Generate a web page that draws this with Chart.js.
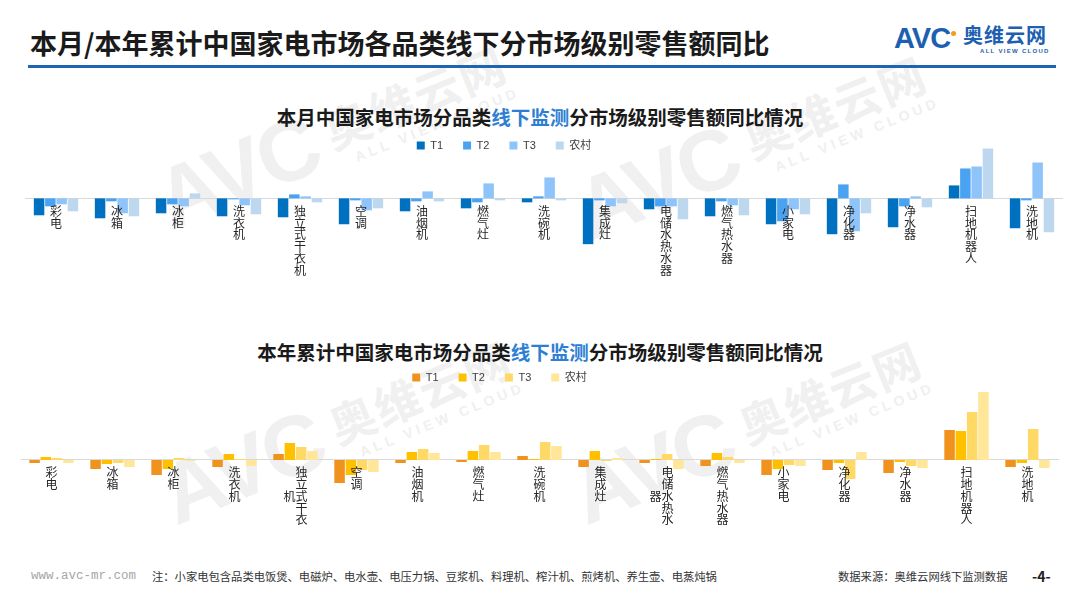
<!DOCTYPE html>
<html lang="zh-CN">
<head>
<meta charset="utf-8">
<title>本月/本年累计中国家电市场各品类线下分市场级别零售额同比</title>
<script src="https://cdn.jsdelivr.net/npm/chart.js@4.4.1/dist/chart.umd.min.js"></script>
<style>
  html, body { margin: 0; padding: 0; }
  body {
    width: 1080px; height: 608px; position: relative; overflow: hidden;
    background: #fff; color: #1a1a1a;
    font-family: 'Noto Sans CJK SC', 'Liberation Sans', sans-serif;
  }
  .page-title { position: absolute; left: 30px; top: 25px; font-size: 27px; line-height: 36px; font-weight: bold; }
  .rule { position: absolute; left: 28px; top: 65px; width: 1028px; height: 3px; background: #1f63b4; }

  .logo { position: absolute; left: 894px; top: 22px; width: 170px; height: 34px; color: #1d5fb0; }
  .logo .avc { position: absolute; left: 0; top: 0; font: bold 29px/32px 'Liberation Sans'; letter-spacing: -1px; }
  .logo .dot { position: absolute; left: 57px; top: 9px; width: 5px; height: 5px; border-radius: 50%; background: #f39a1d; }
  .logo .cn { position: absolute; left: 69px; top: 2px; font: bold 20px/22px 'Noto Sans CJK SC'; letter-spacing: 1px; }
  .logo .en { position: absolute; left: 86px; top: 25px; font: bold 6px/8px 'Liberation Sans'; letter-spacing: 1.3px; }

  .wm { position: absolute; transform: rotate(-22deg); transform-origin: 0 100%; color: #f0f0f0; white-space: nowrap; }
  .wm .avc { display: inline-block; vertical-align: bottom; font: bold 86px/80px 'Liberation Sans'; letter-spacing: -3px; }
  .wm .brand { display: inline-block; vertical-align: bottom; margin-left: 14px; }
  .wm .cn { font: bold 46px/52px 'Noto Sans CJK SC'; letter-spacing: 2px; }
  .wm .en { font: bold 14px/18px 'Liberation Sans'; letter-spacing: 4px; margin-left: 18px; }

  .chart-title { position: absolute; left: 0; width: 1080px; text-align: center; font-size: 19.5px; line-height: 26px; font-weight: bold; }
  .chart-title em { font-style: normal; color: #2e7fd3; }
  canvas { position: absolute; left: 0; }

  .foot { position: absolute; top: 568px; line-height: 16px; font-size: 11.3px; color: #333; white-space: nowrap; }
  .foot.url { left: 31px; font: 12.5px/16px 'Liberation Mono', monospace; color: #a6a6a6; }
  .foot.page { left: 1032px; font-size: 14px; font-weight: bold; color: #222; }
</style>
</head>
<body>

<div class="wm" style="left:175px; top:160px;"><span class="avc">AVC</span><span class="brand"><div class="cn">奥维云网</div><div class="en">ALL VIEW CLOUD</div></span></div>
<div class="wm" style="left:595px; top:170px;"><span class="avc">AVC</span><span class="brand"><div class="cn">奥维云网</div><div class="en">ALL VIEW CLOUD</div></span></div>
<div class="wm" style="left:180px; top:455px;"><span class="avc">AVC</span><span class="brand"><div class="cn">奥维云网</div><div class="en">ALL VIEW CLOUD</div></span></div>
<div class="wm" style="left:590px; top:455px;"><span class="avc">AVC</span><span class="brand"><div class="cn">奥维云网</div><div class="en">ALL VIEW CLOUD</div></span></div>

<div class="page-title">本月/本年累计中国家电市场各品类线下分市场级别零售额同比</div>
<div class="rule"></div>
<div class="logo">
  <span class="avc">AVC</span><span class="dot"></span>
  <span class="cn">奥维云网</span>
  <span class="en">ALL VIEW CLOUD</span>
</div>

<div class="chart-title" style="top:104px;">本月中国家电市场分品类<em>线下监测</em>分市场级别零售额同比情况</div>
<canvas id="monthChart" width="1080" height="170" style="top:120px;"></canvas>

<div class="chart-title" style="top:339px;">本年累计中国家电市场分品类<em>线下监测</em>分市场级别零售额同比情况</div>
<canvas id="ytdChart" width="1080" height="188" style="top:352px;"></canvas>

<div class="foot url">www.avc-mr.com</div>
<div class="foot" style="left:152px;">注：小家电包含品类电饭煲、电磁炉、电水壶、电压力锅、豆浆机、料理机、榨汁机、煎烤机、养生壶、电蒸炖锅</div>
<div class="foot" style="left:838px;">数据来源：奥维云网线下监测数据</div>
<div class="foot page">-4-</div>

<script>
// 品类
const categories = ['彩电', '冰箱', '冰柜', '洗衣机', '独立式干衣机', '空调', '油烟机', '燃气灶', '洗碗机',
  '集成灶', '电储水热水器', '燃气热水器', '小家电', '净化器', '净水器', '扫地机器人', '洗地机'];
const seriesNames = ['T1', 'T2', 'T3', '农村'];

// 竖排标签，一字一行
const monthLabels = categories.map(c => Array.from(c));
// 本年累计图里有两个标签被折成两列
const ytdLabels = categories.map(c => Array.from(c));
ytdLabels[4] = ['　独', '　立', '机式', '　干', '　衣'];
ytdLabels[10] = ['　电', '　储', '器水', '　热', '　水'];

// 本月同比 (%)
const monthT1    = [-17, -20, -15, -18, -19, -26, -13, -10,  -4, -46, -11, -18, -26, -36, -29, 13, -30];
const monthT2    = [ -8,  -3,  -6,  -1,   4,  -2,  -3,  -4,   2,  -2,  -8,  -3, -23,  14,  -8, 30,  -2];
const monthT3    = [ -6, -15,  -8,  -7,   2, -12,   7,  15,  21,  -8,  -8,  -7, -11, -33,   2, 32,  36];
const monthRural = [-13, -18,   5, -16,  -4, -10,  -3,  -2,  -2,  -5, -21, -17, -16, -15,  -9, 50, -34];

// 本年累计同比 (%)
const ytdT1    = [ -3,  -9, -15,  -7,   6, -23,  -3,  -2,   4,  -7,  -3,  -6, -15, -10, -13, 30,  -7];
const ytdT2    = [  3,  -4,  -9,   6,  17, -15,   8,   9,   1,   9,   1,   7,  -9,  -3,  -2, 29,  -3];
const ytdT3    = [  2,  -3,   2,   1,  13, -10,  11,  15,  18,  -1,   6,   3,  -5, -19,  -6, 48,  31];
const ytdRural = [ -3,  -7,  -1,  -6,   9, -12,   7,   8,  14,   2,  -9,  -3,  -6,   8,  -8, 68,  -8];

const blueColors   = ['#0070C0', '#4AA3F2', '#8EC4FA', '#BDD7EE'];
const orangeColors = ['#F0921E', '#FFC000', '#FFD966', '#FFE699'];

const cjkFont = "'Noto Sans CJK SC', 'Liberation Sans', sans-serif";

// 图例整体往左挪一点，和原图对齐
const legendShift = {
  id: 'legendShift',
  afterLayout(chart, args, opts) {
    chart.legend.left += opts.dx;
    chart.legend.right += opts.dx;
  }
};

function makeChart(id, labels, values, colors, yMin, yMax, padLeft, padRight) {
  return new Chart(document.getElementById(id), {
    type: 'bar',
    data: {
      labels: labels,
      datasets: seriesNames.map((name, i) => ({
        label: name,
        data: values[i],
        backgroundColor: colors[i],
        borderWidth: 0,
        categoryPercentage: 0.74,
        barPercentage: 0.93,
        clip: false
      }))
    },
    plugins: [legendShift],
    options: {
      responsive: false,
      animation: false,
      layout: { padding: { left: padLeft, right: padRight, top: 0, bottom: 0 } },
      plugins: {
        legend: {
          position: 'top',
          labels: {
            boxWidth: 8, boxHeight: 8, padding: 20, color: '#404040',
            font: { family: "'Liberation Sans', 'Noto Sans CJK SC', sans-serif", size: 11 }
          }
        },
        legendShift: { dx: -40 },
        tooltip: { enabled: false }
      },
      scales: {
        x: {
          position: { y: 0 },
          grid: { display: true, drawOnChartArea: false, drawTicks: false },
          border: { display: true, color: '#d9d9d9', width: 1 },
          ticks: {
            autoSkip: false, maxRotation: 0, minRotation: 0, padding: 7, z: 1,
            color: '#262626',
            font: { family: cjkFont, size: 12, lineHeight: 0.98 }
          }
        },
        y: { display: false, min: yMin, max: yMax }
      }
    }
  });
}

makeChart('monthChart', monthLabels, [monthT1, monthT2, monthT3, monthRural], blueColors, -92, 37.5, 25.5, 17.5);
makeChart('ytdChart', ytdLabels, [ytdT1, ytdT2, ytdT3, ytdRural], orangeColors, -80, 67, 21, 22);
</script>
</body>
</html>
